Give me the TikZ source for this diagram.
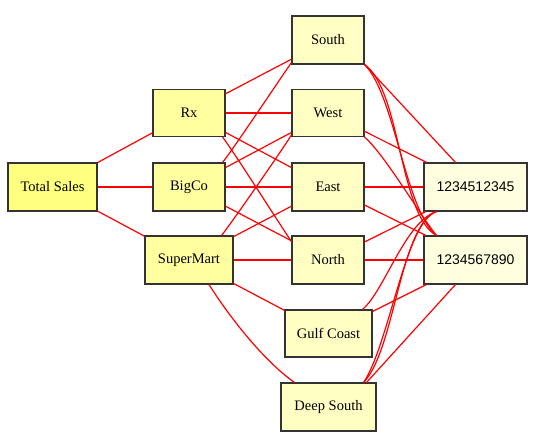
\documentclass[tikz,border=0pt]{standalone}
\usepackage{fontspec}
\setmainfont{Liberation Serif}
\newfontfamily\numfont{Liberation Sans}
\definecolor{tsfill}{RGB}{255,255,128}
\definecolor{cofill}{RGB}{255,255,160}
\definecolor{regfill}{RGB}{255,255,196}
\definecolor{numfill}{RGB}{255,255,224}
\definecolor{edgered}{RGB}{255,0,0}
\tikzset{
  box/.style={draw=black!80, line width=1.1pt, rectangle, inner sep=0pt,
    font=\fontsize{14.5}{16}\selectfont, minimum height=48pt},
  tsbox/.style={box, fill=tsfill, minimum width=89pt},
  cobox/.style={box, fill=cofill, minimum width=72pt},
  regbox/.style={box, fill=regfill, minimum width=72pt},
  numbox/.style={box, fill=numfill, minimum width=103pt, font=\numfont\fontsize{14}{16}\selectfont},
  edge/.style={draw=edgered, line width=1.2pt}
}
\begin{document}
\begin{tikzpicture}[x=1pt,y=-1pt]
\useasboundingbox (0,0) rectangle (547,441);
\node[tsbox] (ts) at (52.5,187) {Total Sales};
\node[cobox, minimum height=47pt] (rx) at (189,113) {Rx};
\node[cobox] (bigco) at (189,187) {BigCo};
\node[cobox, minimum width=88pt] (sm) at (189,260) {SuperMart};
\node[regbox] (south) at (328,40) {South};
\node[regbox, minimum height=47pt] (west) at (328,113) {West};
\node[regbox] (east) at (328,187) {East};
\node[regbox] (north) at (328,260) {North};
\node[regbox, minimum width=87pt, minimum height=47pt] (gc) at (328.5,333.5) {Gulf Coast};
\node[regbox, minimum width=95pt] (ds) at (328.5,407) {Deep South};
\node[numbox] (na) at (475.5,187) {1234512345};
\node[numbox] (nb) at (475.5,260) {1234567890};
% Total Sales
\draw[edge] (ts) -- (rx);
\draw[edge] (ts) -- (bigco);
\draw[edge] (ts) -- (sm);
% Rx
\draw[edge] (rx) -- (south);
\draw[edge] (rx) -- (west);
\draw[edge] (rx) -- (east);
\draw[edge] ([xshift=-3pt]rx.south east) .. controls (234,152) and (282,228) .. ([yshift=-6pt]north.north west);
% BigCo
\draw[edge] ([xshift=-3pt]bigco.north east) .. controls (234,148) and (282,76) .. ([yshift=2pt]south.south west);
\draw[edge] (bigco) -- (west);
\draw[edge] (bigco) -- (east);
\draw[edge] (bigco) -- (north);
% SuperMart
\draw[edge] ([xshift=-12pt]sm.north east) .. controls (233,221) and (282,150) .. ([yshift=2pt]west.south west);
\draw[edge] (sm) -- (east);
\draw[edge] (sm) -- (north);
\draw[edge] (sm) -- (gc);
\draw[edge] ([xshift=20pt]sm.south) .. controls (225,310) and (260,358) .. ([xshift=14pt]ds.north west);
% South
\draw[edge] (south.south east) -- ([xshift=-20pt]na.north);
\draw[edge] (south.south east) .. controls (395,95) and (405,210) .. ([xshift=13pt]nb.north west);
\draw[edge] (south.south east) .. controls (401,90) and (399,215) .. ([xshift=13pt]nb.north west);
% West
\draw[edge] (west) -- (na);
\draw[edge] (west.south east) .. controls (385,155) and (420,215) .. ([xshift=13pt]nb.north west);
% East
\draw[edge] (east) -- (na);
\draw[edge] (east) -- (nb);
% North
\draw[edge] (north) -- (na);
\draw[edge] (north) -- (nb);
% Gulf Coast
\draw[edge] ([xshift=-10pt]gc.north east) .. controls (385,290) and (405,222) .. ([xshift=13pt]na.south west);
\draw[edge] (gc) -- (nb);
% Deep South
\draw[edge] ([xshift=-13pt]ds.north east) .. controls (395,350) and (400,225) .. ([xshift=13pt]na.south west);
\draw[edge] ([xshift=-13pt]ds.north east) .. controls (389,345) and (406,220) .. ([xshift=13pt]na.south west);
\draw[edge] ([xshift=-10pt]ds.north east) -- ([xshift=-20pt]nb.south);
\end{tikzpicture}
\end{document}
